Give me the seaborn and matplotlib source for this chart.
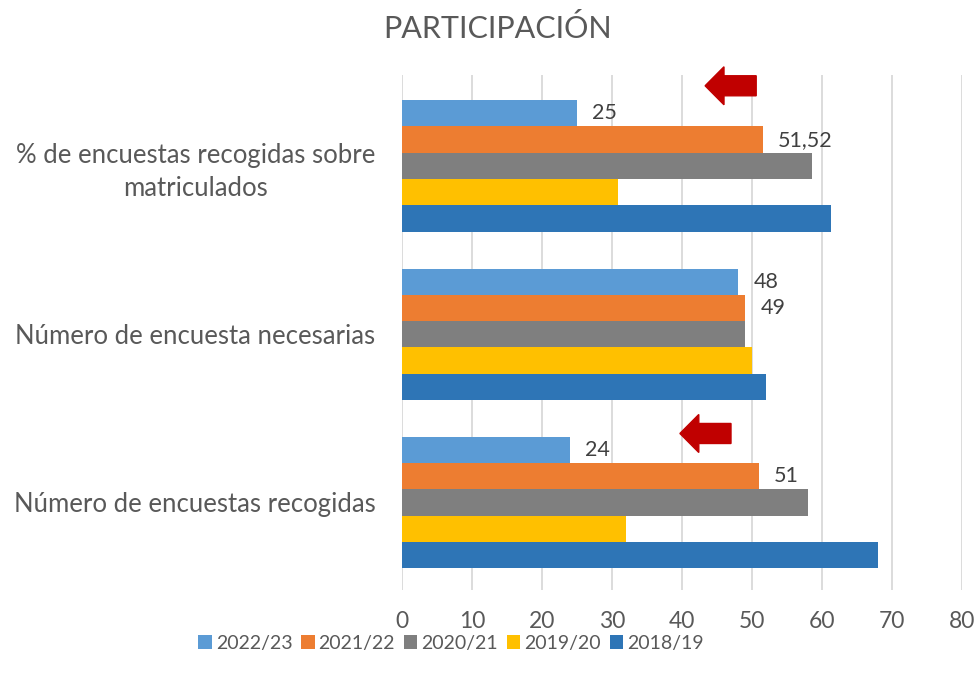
import matplotlib
matplotlib.use("Agg")
import matplotlib.pyplot as plt
import seaborn as sns
import pandas as pd
from matplotlib.patches import FancyArrow, Patch

categories = ["% de encuestas recogidas sobre\nmatriculados",
              "Número de encuesta necesarias",
              "Número de encuestas recogidas"]
years = ["2022/23", "2021/22", "2020/21", "2019/20", "2018/19"]
v_2022_23 = [25, 48, 24]
v_2021_22 = [51.52, 49, 51]
v_2020_21 = [58.6, 49, 58]
v_2019_20 = [30.8, 50, 32]
v_2018_19 = [61.3, 52, 68]
labels_2022_23 = ["25", "48", "24"]
labels_2021_22 = ["51,52", "49", "51"]
x_ticks = [0, 10, 20, 30, 40, 50, 60, 70, 80]
colors = ["#5B9BD5", "#ED7D31", "#7F7F7F", "#FFC000", "#2E75B6"]

series = [v_2022_23, v_2021_22, v_2020_21, v_2019_20, v_2018_19]
rows = []
for yr, vals in zip(years, series):
    for c, v in zip(categories, vals):
        rows.append({"cat": c, "year": yr, "value": v})
df = pd.DataFrame(rows)

sns.set_theme(style="white")
plt.rcParams["font.family"] = ["Lato", "DejaVu Sans"]
txt = "#595959"

fig = plt.figure(figsize=(9.75, 6.82), dpi=100)
ax = fig.add_axes([402/975, 1-590/682, 560/975, 515/682])

sns.barplot(data=df, y="cat", x="value", hue="year", order=categories,
            hue_order=years, palette=colors, orient="h", width=0.78,
            saturation=1, ax=ax, legend=False, edgecolor="none")

ax.set_xlim(0, 80)
ax.set_ylim(2.52, -0.54)
ax.set_xticks(x_ticks)
ax.set_xticklabels([str(t) for t in x_ticks], fontsize=16.5, color=txt)
ax.tick_params(axis="y", labelsize=18.5, labelcolor=txt, pad=19, length=0)
ax.tick_params(axis="x", pad=15, length=0)
for lab in ax.get_yticklabels():
    lab.set_multialignment("center")
    lab.set_linespacing(1.4)
ax.set_xlabel("")
ax.set_ylabel("")
for s in ax.spines.values():
    s.set_visible(False)
ax.grid(axis="x", color="#D9D9D9", linewidth=1.3)
ax.set_axisbelow(True)

containers = ax.containers
ax.bar_label(containers[0], labels=labels_2022_23, padding=11, fontsize=15.5, color="#404040")
ax.bar_label(containers[1], labels=labels_2021_22, padding=11, fontsize=15.5, color="#404040")

# red arrows
ax.add_patch(FancyArrow(50.6, -0.476, -7.3, 0, width=0.119, head_width=0.226,
                        head_length=2.7, length_includes_head=True,
                        color="#C00000", clip_on=False))
ax.add_patch(FancyArrow(47.0, 1.59, -7.3, 0, width=0.119, head_width=0.226,
                        head_length=2.7, length_includes_head=True,
                        color="#C00000", clip_on=False))

fig.text(498/975, 1-28/682, "PARTICIPACIÓN", ha="center", va="center",
         fontsize=22, color=txt)

handles = [Patch(facecolor=c, edgecolor="none") for c in colors]
fig.legend(handles, years, loc="center", bbox_to_anchor=(451/975, 1-643/682),
           ncol=5, frameon=False, fontsize=14, labelcolor=txt,
           handlelength=0.7, handleheight=0.7, handletextpad=0.2, columnspacing=0.45)

fig.savefig("out.png", dpi=100)
